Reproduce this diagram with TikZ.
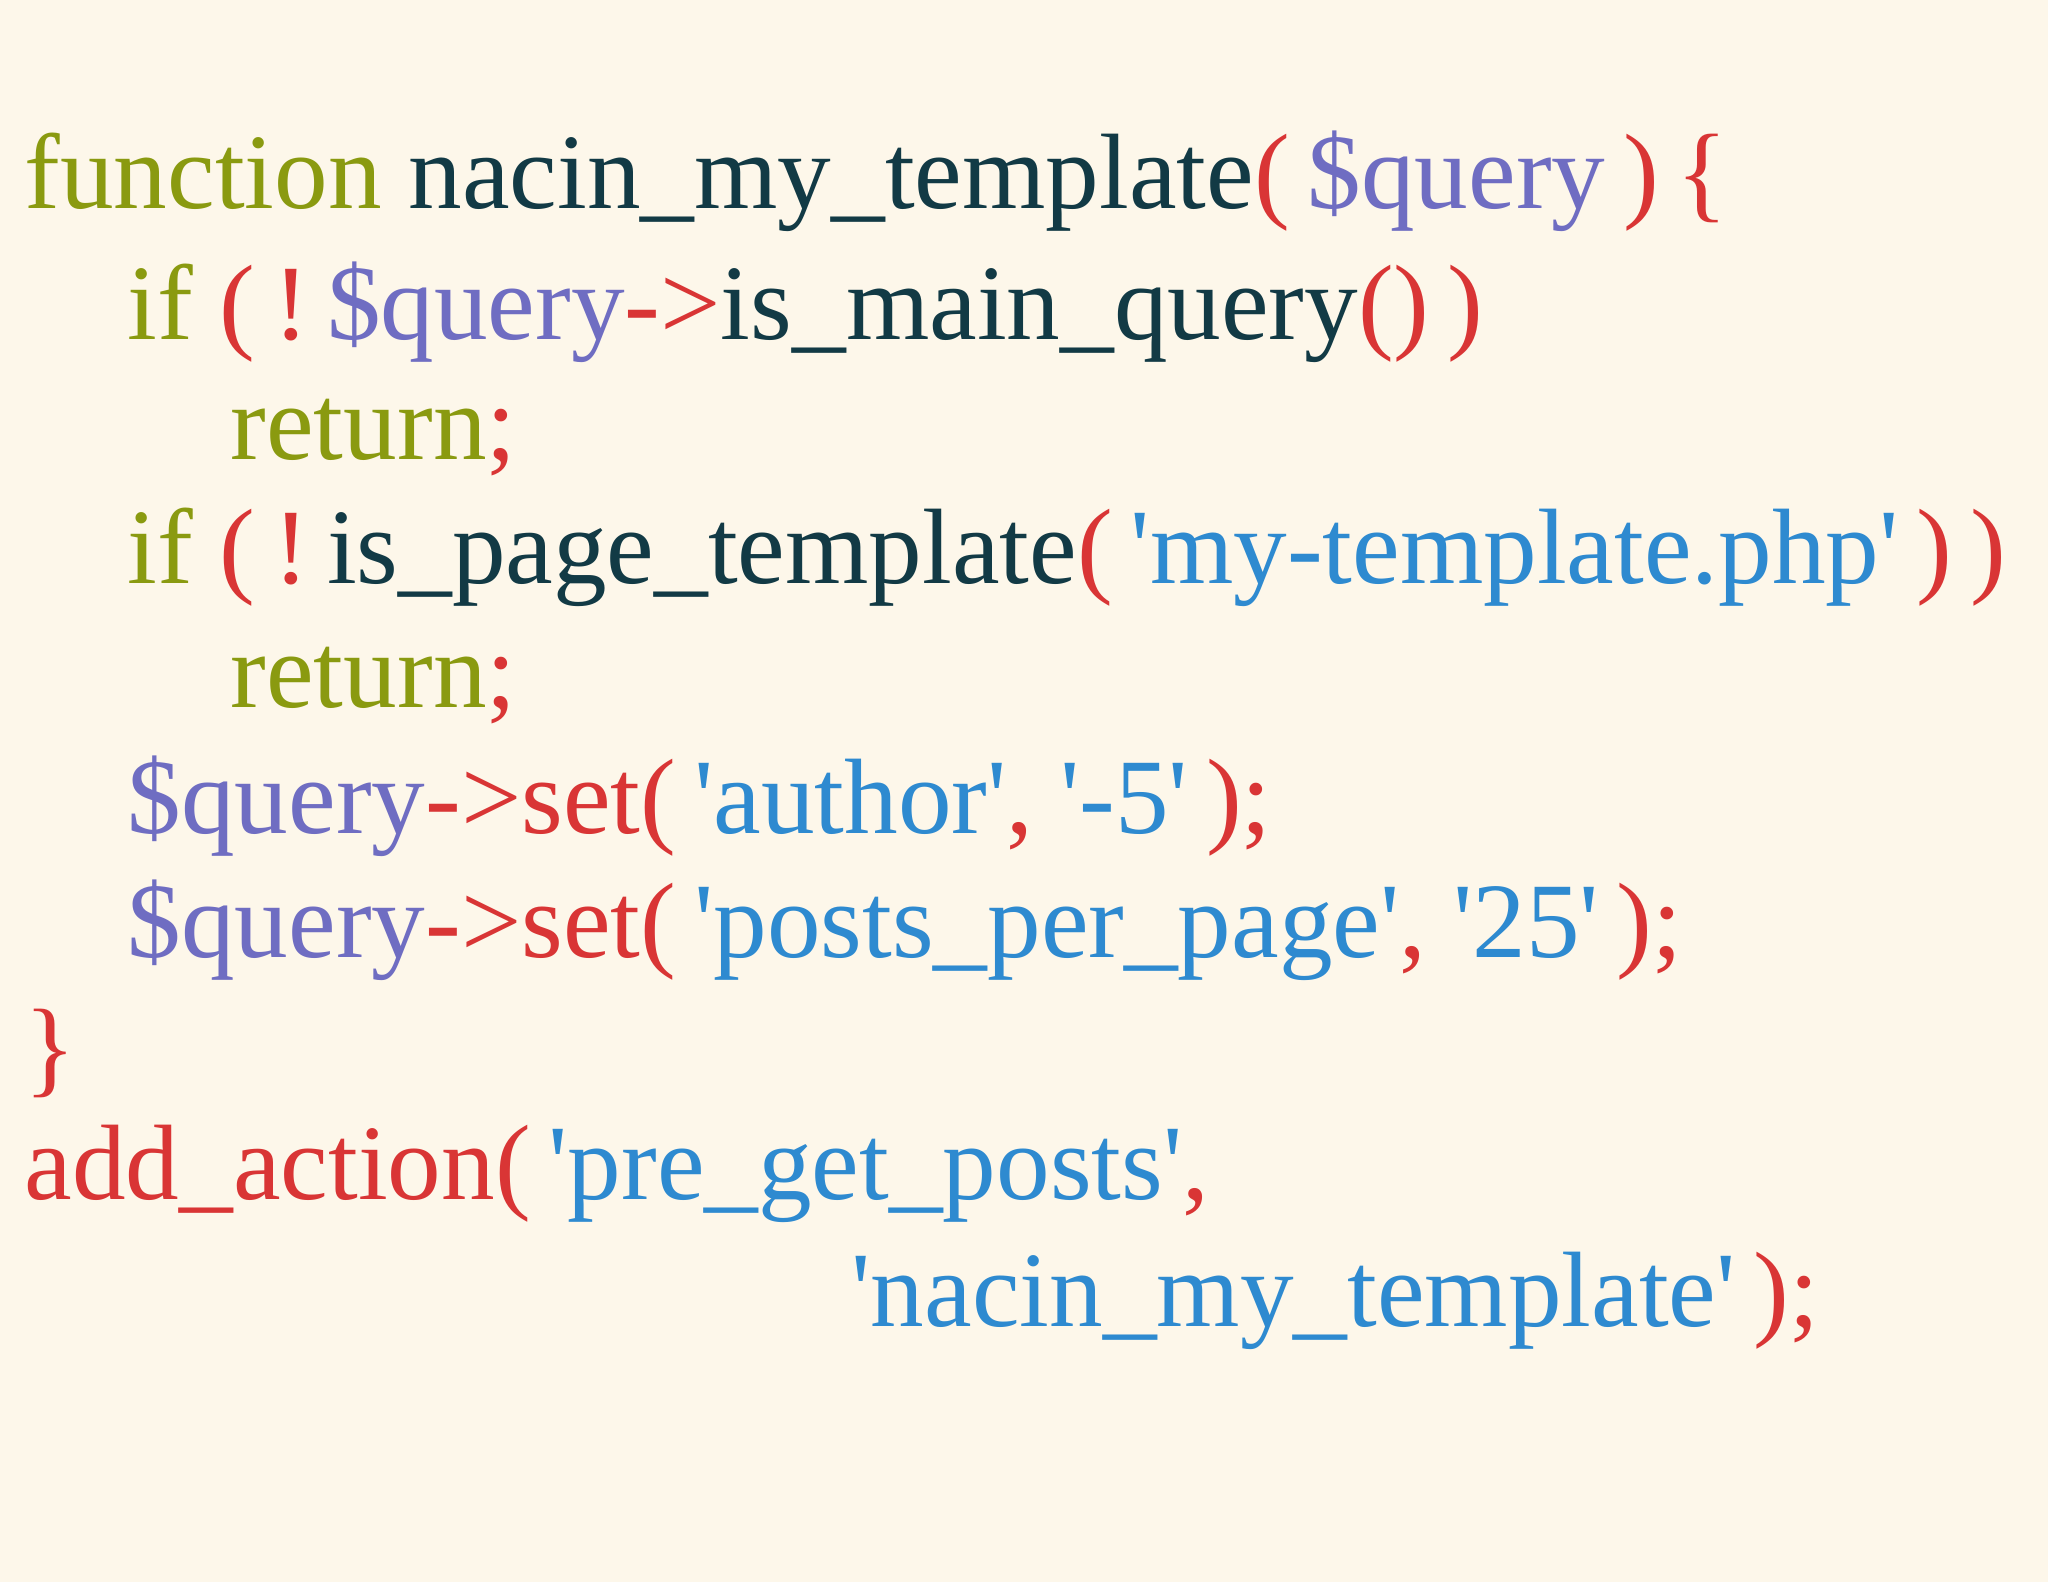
\documentclass[tikz,border=0pt]{standalone}
\usepackage{fontspec}
\setmainfont{Liberation Serif}
\newfontfamily\qf{Liberation Serif}
\definecolor{bg}{HTML}{FDF7EA}
\definecolor{kw}{HTML}{8A9A10}
\definecolor{fn}{HTML}{123A45}
\definecolor{rd}{HTML}{D93535}
\definecolor{pu}{HTML}{6F6DC2}
\definecolor{bl}{HTML}{2E8AD0}
\newcommand{\K}[1]{\textcolor{kw}{#1}}
\newcommand{\F}[1]{\textcolor{fn}{#1}}
\newcommand{\R}[1]{\textcolor{rd}{#1}}
\newcommand{\PU}[1]{\textcolor{pu}{#1}}
\newcommand{\B}[1]{\textcolor{bl}{#1}}
\newcommand{\q}{{\qf'}}
\begin{document}
\begin{tikzpicture}[x=1cm,y=-1cm,
  code/.style={anchor=base west,inner sep=0pt,font=\fontsize{30.5}{37}\selectfont}]
\fill[bg] (0,0) rectangle (20.48,15.82);
\useasboundingbox (0,0) rectangle (20.48,15.82);
\node[code] (l1) at (0.24,2.09) {\K{function} \F{nacin\_my\_template}\R{(}\,\PU{\$query}\,\R{)}\,\R{\{}};
\node[code] (l2) at (1.27,3.40) {\K{if} \R{(}\,\R{!}\,\PU{\$query}\R{->}\F{is\_main\_query}\R{()}\,\R{)}};
\node[code] (l3) at (2.30,4.60) {\K{return}\R{;}};
\node[code] (l4) at (1.27,5.84) {\K{if} \R{(}\,\R{!}\,\F{is\_page\_template}\R{(}\,\B{\q my-template.php\q}\,\R{)}\,\R{)}};
\node[code] (l5) at (2.30,7.08) {\K{return}\R{;}};
\node[code] (l6) at (1.27,8.33) {\PU{\$query}\R{->set(}\,\B{\q author\q}\R{,} \B{\q-5\q}\,\R{);}};
\node[code] (l7) at (1.27,9.57) {\PU{\$query}\R{->set(}\,\B{\q posts\_per\_page\q}\R{,} \B{\q 25\q}\,\R{);}};
\node[code] (l8) at (0.24,10.84) {\R{\}}};
\node[code] (l9) at (0.24,11.99) {\R{add\_action(}\,\B{\q pre\_get\_posts\q}\R{,}};
\node[code] (l10) at (8.51,13.26) {\B{\q nacin\_my\_template\q}\,\R{);}};
\end{tikzpicture}
\end{document}
